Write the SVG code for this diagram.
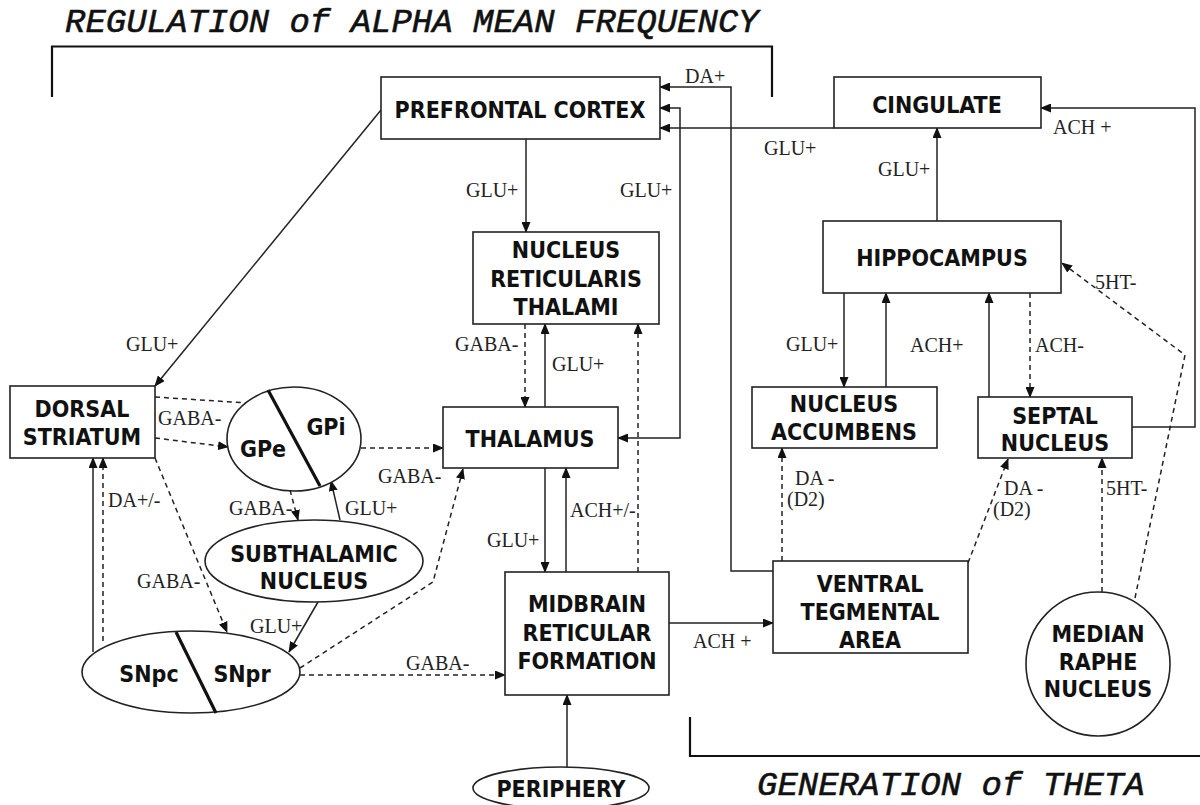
<svg xmlns="http://www.w3.org/2000/svg" width="1200" height="805" viewBox="0 0 1200 805">
<defs>
<marker id="a" markerWidth="11" markerHeight="9" refX="10" refY="4.5" orient="auto-start-reverse" markerUnits="userSpaceOnUse">
<path d="M0,0 L11,4.5 L0,9 z" fill="#111"/>
</marker>
<style>
.t{font-family:"Liberation Mono","Courier New",monospace;font-style:italic;font-size:34px;fill:#111;stroke:#111;stroke-width:0.6}
.n{font-family:"DejaVu Sans Condensed","DejaVu Sans",sans-serif;font-weight:bold;font-size:23px;fill:#111;text-anchor:middle}
.l{font-family:"Liberation Serif","Times New Roman",serif;font-size:20px;fill:#222}
.b{fill:#fff;stroke:#222;stroke-width:1.6}
.c path{fill:none;stroke:#222;stroke-width:1.5}
.c .d{stroke-dasharray:5,4}
.div{stroke:#111;stroke-width:3.2}
.br{fill:none;stroke:#111;stroke-width:2.2}
</style>
</defs>
<rect width="1200" height="805" fill="#fff"/>

<g id="titles">
<text class="t" x="65" y="32">REGULATION of ALPHA MEAN FREQUENCY</text>
<path class="br" d="M52,97 L52,46.5 L772,46.5 L772,97"/>
<path class="br" d="M690,717 L690,756 L1200,756"/>
<text class="t" x="757" y="795">GENERATION of THETA</text>
</g>

<g class="c" id="connectors">
<path d="M773,571 L731,571 L731,87 L660,87" marker-end="url(#a)"/>
<path d="M660,108 L680,108 L680,438 L618,438" marker-start="url(#a)" marker-end="url(#a)"/>
<path d="M834,128 L660,128" marker-end="url(#a)"/>
<path d="M1132,427 L1195,427 L1195,108 L1041,108" marker-end="url(#a)"/>
<path d="M937,221 L937,128" marker-end="url(#a)"/>
<path d="M526,139 L526,232" marker-end="url(#a)"/>
<path class="d" d="M525,324 L525,407" marker-end="url(#a)"/>
<path d="M545,407 L545,324" marker-end="url(#a)"/>
<path class="d" d="M638,572 L638,324" marker-end="url(#a)"/>
<path d="M545,468 L545,572" marker-end="url(#a)"/>
<path d="M566,572 L566,468" marker-end="url(#a)"/>
<path d="M567,767 L567,695" marker-end="url(#a)"/>
<path d="M669,623 L773,623" marker-end="url(#a)"/>
<path class="d" d="M300,675 L505,675" marker-end="url(#a)"/>
<path class="d" d="M782,561 L782,448" marker-end="url(#a)"/>
<path d="M844,293 L844,387" marker-end="url(#a)"/>
<path d="M886,387 L886,293" marker-end="url(#a)"/>
<path d="M989,397 L989,293" marker-end="url(#a)"/>
<path class="d" d="M1030,293 L1030,397" marker-end="url(#a)"/>
<path class="d" d="M968,563 L1008,459" marker-end="url(#a)"/>
<path class="d" d="M1102,592 L1102,458" marker-end="url(#a)"/>
<path class="d" d="M1135,598 L1185,355 L1062,263" marker-end="url(#a)"/>
<path d="M381,110 L155,386" marker-end="url(#a)"/>
<path class="d" d="M155,397 L308,407" marker-end="url(#a)"/>
<path class="d" d="M155,438 L228,447" marker-end="url(#a)"/>
<path class="d" d="M361,448 L443,448" marker-end="url(#a)"/>
<path class="d" d="M290,490 L298,520" marker-end="url(#a)"/>
<path d="M340,520 L331,481" marker-end="url(#a)"/>
<path d="M318,602 L289,652" marker-end="url(#a)"/>
<path class="d" d="M155,458 L227,632" marker-end="url(#a)"/>
<path d="M93,652 L93,458" marker-end="url(#a)"/>
<path class="d" d="M103,641 L103,458" marker-end="url(#a)"/>
<path class="d" d="M300,668 L433,582 L463,469" marker-end="url(#a)"/>
</g>

<g id="labels">
<text class="l" x="685" y="83">DA+</text>
<text class="l" x="764" y="155">GLU+</text>
<text class="l" x="1053" y="134">ACH +</text>
<text class="l" x="878" y="176">GLU+</text>
<text class="l" x="466" y="197">GLU+</text>
<text class="l" x="620" y="197">GLU+</text>
<text class="l" x="126" y="351">GLU+</text>
<text class="l" x="455" y="351">GABA-</text>
<text class="l" x="552" y="371">GLU+</text>
<text class="l" x="158" y="425">GABA-</text>
<text class="l" x="378" y="483">GABA-</text>
<text class="l" x="108" y="507">DA+/-</text>
<text class="l" x="229" y="515">GABA-</text>
<text class="l" x="345" y="515">GLU+</text>
<text class="l" x="570" y="517">ACH+/-</text>
<text class="l" x="487" y="547">GLU+</text>
<text class="l" x="406" y="670">GABA-</text>
<text class="l" x="137" y="588">GABA-</text>
<text class="l" x="250" y="633">GLU+</text>
<text class="l" x="693" y="648">ACH +</text>
<text class="l" x="795" y="485">DA -</text>
<text class="l" x="787" y="506">(D2)</text>
<text class="l" x="786" y="351">GLU+</text>
<text class="l" x="910" y="352">ACH+</text>
<text class="l" x="1035" y="352">ACH-</text>
<text class="l" x="1095" y="289">5HT-</text>
<text class="l" x="1004" y="495">DA -</text>
<text class="l" x="993" y="516">(D2)</text>
<text class="l" x="1106" y="495">5HT-</text>
</g>

<g id="pfc"><rect class="b" x="381" y="77" width="279" height="62"/><text class="n" x="520" y="118">PREFRONTAL CORTEX</text></g>
<g id="cingulate"><rect class="b" x="834" y="77" width="207" height="51"/><text class="n" x="937" y="113">CINGULATE</text></g>
<g id="hippocampus"><rect class="b" x="823" y="221" width="238" height="72"/><text class="n" x="942" y="266">HIPPOCAMPUS</text></g>
<g id="nrt"><rect class="b" x="473" y="232" width="186" height="92"/><text class="n" x="566" y="258">NUCLEUS</text><text class="n" x="566" y="287">RETICULARIS</text><text class="n" x="566" y="315">THALAMI</text></g>
<g id="thalamus"><rect class="b" x="443" y="407" width="175" height="61"/><text class="n" x="530" y="447">THALAMUS</text></g>
<g id="nacc"><rect class="b" x="752" y="387" width="185" height="61"/><text class="n" x="844" y="412">NUCLEUS</text><text class="n" x="844" y="440">ACCUMBENS</text></g>
<g id="septal"><rect class="b" x="978" y="397" width="154" height="61"/><text class="n" x="1055" y="424">SEPTAL</text><text class="n" x="1055" y="451">NUCLEUS</text></g>
<g id="dorsal-striatum"><rect class="b" x="10" y="386" width="145" height="72"/><text class="n" x="82" y="417">DORSAL</text><text class="n" x="82" y="445">STRIATUM</text></g>
<g id="gp"><ellipse class="b" cx="294" cy="439" rx="67" ry="52"/><line class="div" x1="268" y1="390" x2="320" y2="486"/><text class="n" x="263" y="457">GPe</text><text class="n" x="326" y="435">GPi</text></g>
<g id="stn"><ellipse class="b" cx="314" cy="561" rx="109" ry="41"/><text class="n" x="314" y="562">SUBTHALAMIC</text><text class="n" x="314" y="589">NUCLEUS</text></g>
<g id="sn"><ellipse class="b" cx="191" cy="672" rx="109" ry="41"/><line class="div" x1="176" y1="632" x2="216" y2="713"/><text class="n" x="149" y="682">SNpc</text><text class="n" x="242" y="682">SNpr</text></g>
<g id="mrf"><rect class="b" x="505" y="572" width="164" height="123"/><text class="n" x="587" y="612">MIDBRAIN</text><text class="n" x="587" y="641">RETICULAR</text><text class="n" x="587" y="669">FORMATION</text></g>
<g id="vta"><rect class="b" x="773" y="561" width="195" height="92"/><text class="n" x="870" y="592">VENTRAL</text><text class="n" x="870" y="620">TEGMENTAL</text><text class="n" x="870" y="648">AREA</text></g>
<g id="mrn"><circle class="b" cx="1098" cy="664" r="72"/><text class="n" x="1098" y="642">MEDIAN</text><text class="n" x="1098" y="670">RAPHE</text><text class="n" x="1098" y="697">NUCLEUS</text></g>
<g id="periphery"><ellipse class="b" cx="561" cy="788" rx="88" ry="21"/><text class="n" x="561" y="797">PERIPHERY</text></g>
</svg>
